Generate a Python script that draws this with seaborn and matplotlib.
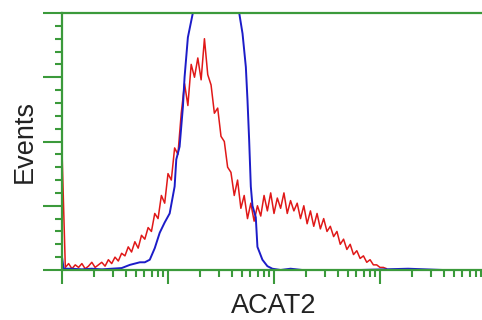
import matplotlib

matplotlib.use("Agg")
import matplotlib.pyplot as plt
import numpy as np
import pandas as pd
import seaborn as sns
from matplotlib.ticker import MultipleLocator, LogLocator, NullFormatter

# channel numbers (256-channel scale over 4 decades) and event counts
red_channels = list(range(0, 198, 2))
red_counts = [
    93,
    2, 5, 1, 4, 2, 5, 1, 3, 6, 2, 4,
    6, 3, 8, 5, 10, 7, 13, 11, 18,
    14, 22, 17, 27, 24, 33, 30, 44, 40,
    58, 52, 75, 70, 95, 90,
    122, 145, 128, 160, 150, 165, 148, 180,
    152, 144, 122, 126, 104, 100, 80,
    76, 58, 70, 48, 58, 40, 52, 38,
    50, 42, 58, 46, 60, 44, 56, 48, 60, 44, 54, 46,
    52, 40, 50, 36, 46, 34, 44, 32, 40, 30,
    34, 26, 30, 20, 24, 16, 20, 12, 15, 9,
    11, 6, 8, 4, 4, 2, 2, 1,
]

blue_channels = [0, 1, 6, 12, 18, 24, 30, 36, 41, 44, 47, 50, 53, 56, 59, 62, 65,
                 68, 69, 71, 73, 74, 76, 79, 82, 86, 90, 94, 98, 102, 105, 107,
                 109, 111, 112, 113, 114, 115, 117, 118, 121, 124, 127, 132, 138,
                 145, 160, 180, 209, 230, 256]
blue_counts = [10, 1, 1, 0.5, 1, 0.5, 1, 1.5, 4, 5, 6, 6, 8, 17, 29, 37, 44,
               65, 86, 96, 127, 150, 181, 200, 225, 245, 255, 250, 235, 218, 208, 200,
               184, 158, 132, 101, 65, 50, 41, 18, 8, 3, 1, 0, 1,
               0, 0, 0, 1, 0, 0]

x_label = "ACAT2"
y_label = "Events"

red_df = pd.DataFrame({"intensity": 10 ** (np.array(red_channels) / 64.0), "events": red_counts})
blue_df = pd.DataFrame({"intensity": 10 ** (np.array(blue_channels) / 64.0), "events": blue_counts})

sns.set_style("white")
plt.rcParams["font.family"] = ["Liberation Sans", "DejaVu Sans"]

green = "#3b9a3b"
fig = plt.figure(figsize=(4.82, 3.2), dpi=100)
ax = fig.add_axes([62 / 482, 50 / 320, 424 / 482, 257 / 320])

sns.lineplot(data=red_df, x="intensity", y="events", color="#e01818", lw=1.1, ax=ax,
             sort=False, estimator=None)
sns.lineplot(data=blue_df, x="intensity", y="events", color="#1c1cc8", lw=1.4, ax=ax,
             sort=False, estimator=None)

ax.set_xscale("log")
ax.set_xlim(1, 1e4)
ax.set_ylim(0, 200)

ax.xaxis.set_major_locator(LogLocator(base=10, numticks=10))
ax.xaxis.set_minor_locator(LogLocator(base=10, subs=np.arange(2, 10), numticks=50))
ax.xaxis.set_major_formatter(NullFormatter())
ax.xaxis.set_minor_formatter(NullFormatter())
ax.yaxis.set_major_locator(MultipleLocator(50))
ax.yaxis.set_minor_locator(MultipleLocator(10))
ax.yaxis.set_major_formatter(NullFormatter())

ax.tick_params(axis="both", which="major", direction="out", length=10, width=1.5, color=green,
               bottom=True, left=True)
ax.tick_params(axis="both", which="minor", direction="out", length=5, width=1.5, color=green,
               bottom=True, left=True)
ax.tick_params(axis="y", which="major", length=14)

for side in ["left", "top", "bottom"]:
    ax.spines[side].set_color(green)
    ax.spines[side].set_linewidth(1.6)
ax.spines["right"].set_visible(False)

ax.set_xlabel(x_label, fontsize=19.5, color="#222222", labelpad=3)
ax.set_ylabel(y_label, fontsize=19.5, color="#222222", labelpad=0)

fig.savefig("out.png", dpi=100)
plt.close(fig)
